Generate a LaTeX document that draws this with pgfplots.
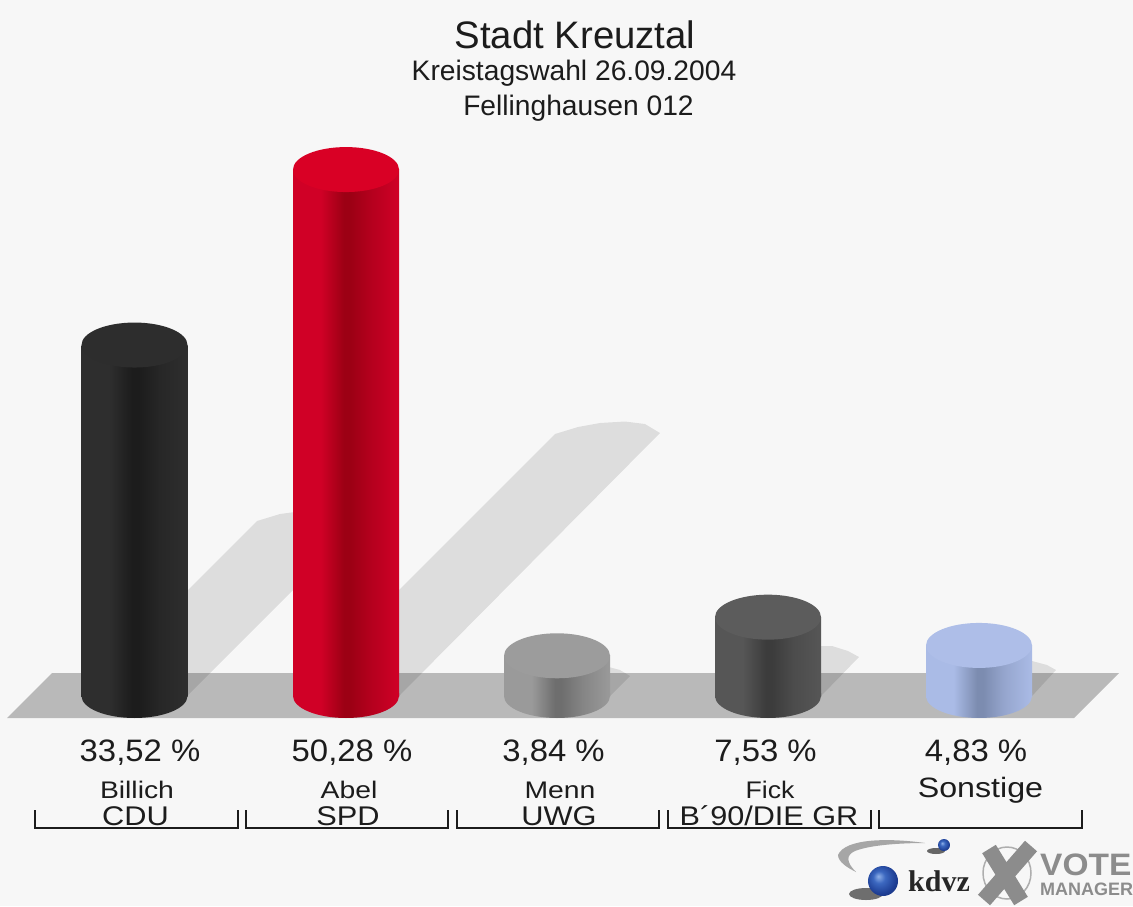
\documentclass[border=0pt]{standalone}
\usepackage{pgfplots}
\pgfplotsset{compat=1.18}
\usepackage{fontspec}
\setmainfont{Liberation Sans}
\definecolor{bgc}{HTML}{F7F7F7}
\definecolor{floorc}{HTML}{B9B9B9}
\definecolor{txt}{HTML}{1C1C1C}
\definecolor{logogray}{HTML}{8C8C8C}
\definecolor{sph1}{HTML}{8FB0E8}
\definecolor{sph2}{HTML}{3C68C0}
\definecolor{sph3}{HTML}{1E3E94}
\definecolor{sph4}{HTML}{101F55}
\pgfdeclareradialshading{sph}{\pgfpoint{-8bp}{8bp}}{color(0bp)=(sph1);color(10bp)=(sph2);color(25bp)=(sph3);color(50bp)=(sph4)}
% colours: edge, dark centre, mid, cap
\newcommand\defcyl[5]{%
  \definecolor{#1e}{HTML}{#2}\definecolor{#1c}{HTML}{#3}\definecolor{#1m}{HTML}{#4}\definecolor{#1t}{HTML}{#5}%
  \pgfdeclarehorizontalshading{cyl#1}{100bp}{color(0bp)=(#1e);color(25bp)=(#1e);color(38bp)=(#1e);color(49bp)=(#1c);color(52bp)=(#1c);color(62bp)=(#1m);color(75bp)=(#1e);color(100bp)=(#1e)}%
  \pgfdeclareplotmark{bot#1}{\pgfpathmoveto{\pgfpoint{-53pt}{3pt}}\pgfpathlineto{\pgfpoint{-53pt}{0pt}}\pgfpatharc{180}{360}{53pt and 22pt}\pgfpathlineto{\pgfpoint{53pt}{3pt}}\pgfpathclose\pgfshadepath{cyl#1}{0}\pgfusepath{discard}}%
  \pgfdeclareplotmark{top#1}{\pgfsetfillcolor{#1t}\pgfpathellipse{\pgfpointorigin}{\pgfpoint{53pt}{0pt}}{\pgfpoint{0pt}{22.5pt}}\pgfusepath{fill}}%
}
\defcyl{blk}{2E2E2E}{1C1C1C}{272727}{2D2D2D}
\defcyl{red}{D00026}{9C0014}{B5001E}{D90025}
\defcyl{gry}{9A9A9A}{6E6E6E}{858585}{9C9C9C}
\defcyl{drk}{565656}{3C3C3C}{4C4C4C}{5C5C5C}
\defcyl{blu}{AABBE6}{7C8CB0}{96A6CE}{AEBEE8}
\pgfplotsset{page/.style={at={(0,0)},anchor=south west,scale only axis,width=1133pt,height=906pt,hide axis,xmin=0,xmax=1133}}
\newcommand\cyl[3]{%
  \addplot[ybar,bar shift=0pt,bar width=106pt,draw=none,shading=cyl#1] coordinates {(#2,#3)};
  \addplot[only marks,mark=bot#1] coordinates {(#2,0)};
  \addplot[only marks,mark=top#1] coordinates {(#2,#3)};
}
\newcommand\txtat[5]{\node[text=txt,inner sep=0pt,anchor=center,font=\fontsize{#2}{#2}\selectfont] at (axis cs:#3,#4) {\scalebox{#1}[1]{#5}};}
\begin{document}
\begin{tikzpicture}
\begin{axis}[page,ymin=0,ymax=906,y dir=reverse]
\addplot[fill=bgc,draw=none] coordinates {(0,0)(1133,0)(1133,906)(0,906)} -- cycle;
\addplot[fill=floorc,draw=none] coordinates {(7,718)(52,673)(1119,673)(1074,718)} -- cycle;
% shadows
\addplot[fill=black,fill opacity=.1,draw=none] coordinates {(82,696)(257,521)(280,514)(310,510)(342,512)(362,521)(187,696)} -- cycle;
\addplot[fill=black,fill opacity=.1,draw=none] coordinates {(293,696)(555,434)(578,427)(600,423)(625,421.5)(645,424)(660,433)(399,696)} -- cycle;
\addplot[fill=black,fill opacity=.1,draw=none] coordinates {(504,696)(524,676)(547,669)(577,665)(605,666)(620,670)(630,676)(610,696)} -- cycle;
\addplot[fill=black,fill opacity=.1,draw=none] coordinates {(715,696)(754,657)(777,650)(807,646)(832,646)(848,651)(859,657)(821,696)} -- cycle;
\addplot[fill=black,fill opacity=.1,draw=none] coordinates {(926,696)(951,671)(974,664)(1004,660)(1032,661)(1047,665)(1056,670)(1032,696)} -- cycle;
% brackets
\addplot[txt,line width=1.8pt] coordinates {(35,810)(35,828)(238,828)(238,810)};
\addplot[txt,line width=1.8pt] coordinates {(246,810)(246,828)(448,828)(448,810)};
\addplot[txt,line width=1.8pt] coordinates {(457,810)(457,828)(659,828)(659,810)};
\addplot[txt,line width=1.8pt] coordinates {(668,810)(668,828)(871,828)(871,810)};
\addplot[txt,line width=1.8pt] coordinates {(879,810)(879,828)(1082,828)(1082,810)};
% texts
\txtat{1}{38.3}{575}{35}{Stadt Kreuztal}
\txtat{1}{28.2}{574}{73}{Kreistagswahl 26.09.2004}
\txtat{1}{28.2}{578.5}{108}{Fellinghausen 012}
\txtat{1.06}{31}{140}{753}{33,52 \%}
\txtat{1.06}{31}{352}{753}{50,28 \%}
\txtat{1.06}{31}{553.5}{753}{3,84 \%}
\txtat{1.06}{31}{765.5}{753}{7,53 \%}
\txtat{1.06}{31}{976}{753}{4,83 \%}
\txtat{1.18}{24}{137}{790}{Billich}
\txtat{1.18}{24}{349}{790}{Abel}
\txtat{1.18}{24}{560}{790}{Menn}
\txtat{1.11}{24}{770}{790}{Fick}
\txtat{1.15}{28}{980.5}{790}{Sonstige}
\txtat{1.14}{27}{135.5}{816}{CDU}
\txtat{1.14}{27}{348}{816}{SPD}
\txtat{1.14}{27}{559}{816}{UWG}
\txtat{1.134}{27}{769}{816}{B´90/DIE GR}
% logo
\fill[gray!70] (axis cs:925,843) .. controls (axis cs:890,838) and (axis cs:845,838) .. (axis cs:838,855) .. controls (axis cs:838,862) and (axis cs:848,868) .. (axis cs:856,872) .. controls (axis cs:846,862) and (axis cs:846,855) .. (axis cs:855,851) .. controls (axis cs:870,845) and (axis cs:900,843) .. (axis cs:925,843) -- cycle;
\fill[black!70,opacity=.8] (axis cs:866,894) ellipse [x radius=17pt,y radius=6pt];
\path[shading=sph] (axis cs:883,881) circle [radius=15pt];
\fill[black!60] (axis cs:936,851) ellipse [x radius=9pt,y radius=3pt];
\path[shading=sph] (axis cs:944,845) circle [radius=6pt];
\node[inner sep=0pt,text=black!85,font=\fontsize{30}{30}\selectfont\bfseries\fontspec{Liberation Serif}] at (axis cs:939,881) {kdvz};
\draw[logogray!70,line width=1.5pt] (axis cs:1007,873) ellipse [x radius=24pt,y radius=26pt];
\draw[logogray,line width=16pt] (axis cs:989,849) -- (axis cs:1021,901);
\draw[logogray,line width=16pt] (axis cs:1031,846) -- (axis cs:984,900);
\node[anchor=west,inner sep=0pt,text=logogray,font=\fontsize{31}{31}\selectfont\bfseries] at (axis cs:1040,865) {\scalebox{1.08}[1]{VOTE}};
\node[anchor=west,inner sep=0pt,text=logogray,font=\fontsize{18}{18}\selectfont\bfseries] at (axis cs:1040,889) {MANAGER};
\end{axis}
\begin{axis}[page,ymin=-20.057,ymax=66.476]
\cyl{blk}{134.5}{33.52}
\cyl{red}{346}{50.28}
\cyl{gry}{557}{3.84}
\cyl{drk}{768}{7.53}
\cyl{blu}{979}{4.83}
\end{axis}
\end{tikzpicture}
\end{document}
